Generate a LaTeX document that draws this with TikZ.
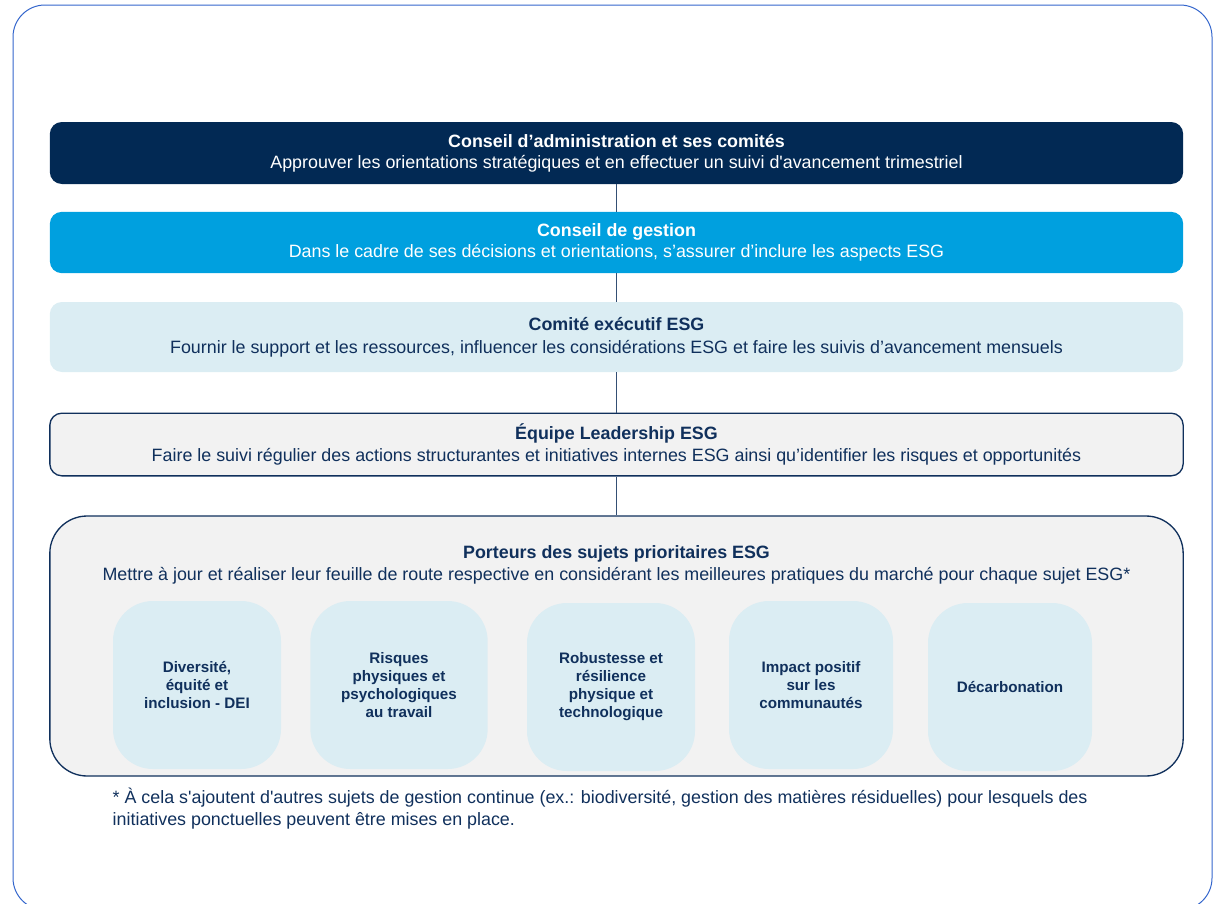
\documentclass[tikz,border=0pt]{standalone}
\usepackage{fontspec}
\setmainfont{Liberation Sans}
\usepackage{xcolor}
\usepackage{tikz}

\definecolor{esgnavy}{RGB}{2,41,84}
\definecolor{esgblue}{RGB}{0,160,223}
\definecolor{esglight}{RGB}{219,237,243}
\definecolor{esggray}{RGB}{242,242,242}
\definecolor{esgtext}{RGB}{16,48,92}
\definecolor{esgframe}{RGB}{52,102,204}

\begin{document}
\begin{tikzpicture}[x=0.75pt, y=-0.75pt,
    govbox/.style={rectangle, rounded corners=9pt, minimum width=850pt, align=center, inner sep=0pt, font=\fontsize{13.4}{16}\selectfont},
    topic/.style={rectangle, rounded corners=30pt, fill=esglight, minimum width=126pt, minimum height=126pt, align=center, text=esgtext, font=\fontsize{11.4}{13.5}\selectfont\bfseries},
    link/.style={draw=esgtext!85, line width=0.75pt}
]
\useasboundingbox (0,0) rectangle (1216,903);

% Outer frame
\draw[esgframe, line width=0.75pt, rounded corners=24pt] (13,5) rectangle (1212,910);

% Governance levels
\node[govbox, fill=esgnavy, text=white, minimum height=46.5pt] (admin) at (616.5,153) {\textbf{Conseil d’administration et ses comités}\\Approuver les orientations stratégiques et en effectuer un suivi d\textquotesingle avancement trimestriel};
\node[govbox, fill=esgblue, text=white, minimum height=46pt] (gestion) at (616.5,242.5) {\textbf{Conseil de gestion}\\Dans le cadre de ses décisions et orientations, s’assurer d’inclure les aspects ESG};
\node[govbox, fill=esglight, text=esgtext, minimum height=52.5pt, font=\fontsize{13.4}{17}\selectfont] (comite) at (616.5,337) {\textbf{Comité exécutif ESG}\\Fournir le support et les ressources, influencer les considérations ESG et faire les suivis d’avancement mensuels};
\node[govbox, fill=esggray, draw=esgtext, line width=1pt, text=esgtext, minimum height=47pt, font=\fontsize{13.4}{16.5}\selectfont] (leadership) at (616.5,444.5) {\textbf{Équipe Leadership ESG}\\Faire le suivi régulier des actions structurantes et initiatives internes ESG ainsi qu’identifier les risques et opportunités};
\node[govbox, fill=esggray, draw=esgtext, line width=1pt, rounded corners=28pt, minimum height=195pt] (porteurs) at (616.5,646) {};
\node[text=esgtext, align=center, font=\fontsize{13.4}{17}\selectfont] (porteurstxt) at (616.5,565) {\textbf{Porteurs des sujets prioritaires ESG}\\Mettre à jour et réaliser leur feuille de route respective en considérant les meilleures pratiques du marché pour chaque sujet ESG*};

% Priority topics
\node[topic] (dei) at (197,685) {Diversité,\\équité et\\inclusion - DEI};
\node[topic, minimum width=133pt] (risques) at (399,685) {Risques\\physiques et\\psychologiques\\au travail};
\node[topic] (robustesse) at (611,687) {Robustesse et\\résilience\\physique et\\technologique};
\node[topic, minimum width=123pt] (impact) at (811,685) {Impact positif\\sur les\\communautés};
\node[topic, minimum width=123pt] (decarb) at (1010,687) {Décarbonation};

% Links
\draw[link] (admin) -- (gestion);
\draw[link] (gestion) -- (comite);
\draw[link] (comite) -- (leadership);
\draw[link] (leadership) -- (porteurs);

% Footnote
\node[anchor=north west, text=esgtext, align=left, font=\fontsize{13.4}{16.5}\selectfont] (note) at (108,783) {* À cela s\textquotesingle ajoutent d\textquotesingle autres sujets de gestion continue (ex.: biodiversité, gestion des matières résiduelles) pour lesquels des\\initiatives ponctuelles peuvent être mises en place.};

\end{tikzpicture}
\end{document}
